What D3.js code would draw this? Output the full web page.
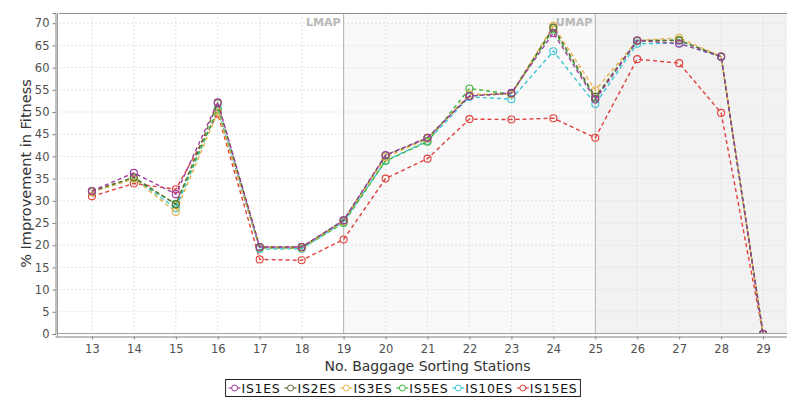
<!DOCTYPE html>
<html>
<head>
<meta charset="utf-8">
<script src="https://cdn.jsdelivr.net/npm/d3@7"></script>
<style>
  html, body { margin: 0; padding: 0; background: #fff; }
  svg { display: block; font-family: "DejaVu Sans", Verdana, sans-serif; }
</style>
</head>
<body>
<svg id="chart" width="787" height="406"></svg>
<script>
// Number of baggage sorting stations on the x axis
const stations = [13, 14, 15, 16, 17, 18, 19, 20, 21, 22, 23, 24, 25, 26, 27, 28, 29];
const yTicks = [0, 5, 10, 15, 20, 25, 30, 35, 40, 45, 50, 55, 60, 65, 70];

// % improvement in fitness for each configuration
const seriesNames = ["IS1ES", "IS2ES", "IS3ES", "IS5ES", "IS10ES", "IS15ES"];
const is1es  = [32.2, 36.3, 31.5, 52.2, 19.6, 19.6, 25.6, 40.3, 44.2, 53.6, 54.3, 67.8, 52.8, 66.1, 65.4, 62.5, 0];
const is2es  = [32.2, 35.3, 29.2, 52.0, 19.6, 19.6, 25.6, 40.2, 44.2, 53.6, 54.2, 69.0, 53.4, 66.1, 66.1, 62.5, 0];
const is3es  = [32.0, 35.0, 27.5, 50.0, 19.5, 19.4, 25.4, 39.8, 44.0, 54.0, 54.0, 69.4, 54.9, 66.1, 66.7, 62.5, 0];
const is5es  = [32.0, 35.0, 29.3, 50.5, 19.4, 19.3, 25.0, 39.0, 43.3, 55.3, 54.0, 68.6, 53.0, 66.0, 66.2, 62.4, 0];
const is10es = [32.0, 35.2, 28.3, 50.7, 19.1, 19.2, 25.3, 39.0, 43.5, 53.4, 52.9, 63.7, 51.8, 65.4, 65.5, 62.4, 0];
const is15es = [31.0, 33.9, 32.6, 49.6, 16.8, 16.6, 21.3, 35.0, 39.5, 48.4, 48.3, 48.6, 44.2, 61.9, 61.0, 49.8, 0];
const seriesValues = [is1es, is2es, is3es, is5es, is10es, is15es];
const seriesColors = ["#a03ca0", "#5e6b2e", "#e6b44c", "#3cb43c", "#3cc6d6", "#e0403c"];

// Interval markers (lower / upper bound)
const markerNames = ["LMAP", "UMAP"];
const markerValues = [19, 25];

const svg = d3.select("#chart");
const plot = { left: 59, top: 13, right: 796, bottom: 334 };

const x = d3.scaleLinear().domain([12.215, 29.785]).range([plot.left, plot.right]);
const y = d3.scaleLinear().domain([0, 72.3]).range([plot.bottom, plot.top]);

svg.append("defs").append("clipPath").attr("id", "plotclip")
  .append("rect").attr("x", plot.left).attr("y", plot.top)
  .attr("width", plot.right - plot.left).attr("height", plot.bottom - plot.top);

const g = svg.append("g").attr("clip-path", "url(#plotclip)");

// shaded bands after each marker
g.append("rect").attr("x", x(markerValues[0])).attr("y", plot.top)
  .attr("width", x(markerValues[1]) - x(markerValues[0])).attr("height", plot.bottom - plot.top)
  .attr("fill", "#f9f9f9");
g.append("rect").attr("x", x(markerValues[1])).attr("y", plot.top)
  .attr("width", plot.right - x(markerValues[1])).attr("height", plot.bottom - plot.top)
  .attr("fill", "#f2f2f2");

// grid
g.selectAll(".hgrid").data(yTicks).join("line")
  .attr("x1", plot.left).attr("x2", plot.right)
  .attr("y1", d => y(d)).attr("y2", d => y(d))
  .attr("stroke", "#dcdcdc").attr("stroke-width", 0.8).attr("stroke-dasharray", "2,2");
g.selectAll(".vgrid").data(stations).join("line")
  .attr("x1", d => x(d)).attr("x2", d => x(d))
  .attr("y1", plot.top).attr("y2", plot.bottom)
  .attr("stroke", "#dcdcdc").attr("stroke-width", 0.8).attr("stroke-dasharray", "2,2");

// marker lines and labels
markerValues.forEach((v, i) => {
  g.append("line").attr("x1", x(v)).attr("x2", x(v))
    .attr("y1", plot.top).attr("y2", plot.bottom)
    .attr("stroke", "#b4b4b4").attr("stroke-width", 1);
  g.append("text").attr("x", x(v) - 3).attr("y", plot.top + 13)
    .attr("text-anchor", "end").attr("font-size", 11).attr("font-weight", "bold")
    .attr("fill", "#b8b8b8").text(markerNames[i]);
});

// series, drawn last-to-first so the first series sits on top
const line = d3.line().x((d, i) => x(stations[i])).y(d => y(d));
for (let s = seriesValues.length - 1; s >= 0; s--) {
  const vals = seriesValues[s];
  g.append("path").datum(vals).attr("d", line)
    .attr("fill", "none").attr("stroke", seriesColors[s])
    .attr("stroke-width", 1.4).attr("stroke-dasharray", "4,3");
  g.selectAll(".pt" + s).data(vals).join("circle")
    .attr("cx", (d, i) => x(stations[i])).attr("cy", d => y(d))
    .attr("r", 3.5).attr("fill", "none")
    .attr("stroke", seriesColors[s]).attr("stroke-width", 1.1);
}

// plot frame
svg.append("line").attr("x1", plot.left).attr("x2", plot.right)
  .attr("y1", plot.top + 0.5).attr("y2", plot.top + 0.5).attr("stroke", "#909090");
svg.append("line").attr("x1", plot.left - 1.5).attr("x2", plot.left - 1.5)
  .attr("y1", plot.top).attr("y2", plot.bottom + 3).attr("stroke", "#a0a0a0");
svg.append("line").attr("x1", plot.left - 1.5).attr("x2", plot.right)
  .attr("y1", plot.bottom - 0.5).attr("y2", plot.bottom - 0.5).attr("stroke", "#a0a0a0");

// axes
const yAxis = d3.axisLeft(y).tickValues(yTicks).tickSize(3).tickPadding(3);
const ya = svg.append("g").attr("transform", `translate(${plot.left - 3.5},0)`).call(yAxis);
const xAxis = d3.axisBottom(x).tickValues(stations).tickSize(3).tickPadding(5);
const xa = svg.append("g").attr("transform", `translate(0,${plot.bottom + 2.5})`).call(xAxis);
[ya, xa].forEach(a => {
  a.select(".domain").attr("stroke", "#808080");
  a.selectAll(".tick line").attr("stroke", "#808080");
  a.selectAll(".tick text").attr("fill", "#505050").attr("font-size", 11.5)
    .attr("font-family", "DejaVu Sans, sans-serif");
});
xa.select(".domain").attr("d", `M${plot.left - 3.5},0.5H${plot.right}`);

// axis titles
svg.append("text").attr("x", (plot.left + plot.right) / 2).attr("y", 371)
  .attr("text-anchor", "middle").attr("font-size", 14).attr("fill", "#333")
  .text("No. Baggage Sorting Stations");
svg.append("text")
  .attr("transform", `translate(31,${(plot.top + plot.bottom) / 2}) rotate(-90)`)
  .attr("text-anchor", "middle").attr("font-size", 14.5).attr("fill", "#333")
  .text("% Improvement in Fitness");

// legend: frame first, then items laid out left to right
const legendBox = svg.append("rect");
const lg = svg.append("g");
let cx = 0;
seriesNames.forEach((name, i) => {
  const it = lg.append("g");
  it.append("line").attr("x1", 0).attr("x2", 12).attr("y1", 0).attr("y2", 0)
    .attr("stroke", seriesColors[i]).attr("stroke-width", 1.2);
  it.append("circle").attr("cx", 6).attr("cy", 0).attr("r", 3)
    .attr("fill", "#fff").attr("stroke", seriesColors[i]);
  const t = it.append("text").attr("x", 13).attr("y", 4.5).attr("font-size", 12.5)
    .attr("letter-spacing", 0.7).attr("fill", "#111").text(name);
  const w = 13 + t.node().getComputedTextLength();
  it.attr("transform", `translate(${cx},0)`);
  cx += w + 4;
});
const legendW = cx - 4 + 6;
const legendX = 403 - legendW / 2;
lg.attr("transform", `translate(${legendX + 3},388)`);
legendBox.attr("x", legendX).attr("y", 379.5).attr("width", legendW).attr("height", 17)
  .attr("fill", "#fff").attr("stroke", "#222").attr("stroke-width", 1);
</script>
</body>
</html>
